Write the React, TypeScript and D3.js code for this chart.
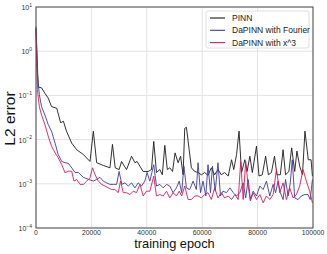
import { FC } from 'react'
import * as d3 from 'd3'

const pinnEpochs = [0, 800, 2000, 3200, 4400, 5600, 7500, 8900, 9900, 11000, 12900, 14700, 17100, 19500, 20700, 21900, 24300, 26700, 27600, 28600, 30000, 30900, 31900, 32700, 34500, 35700, 36500, 37500, 38700, 40500, 41700, 42500, 43500, 44700, 45600, 46500, 47400, 48300, 49300, 50200, 51300, 52200, 53100, 53700, 54300, 55300, 56100, 57300, 58500, 59700, 60900, 62100, 63300, 64500, 65700, 66900, 68100, 69400, 70600, 71400, 72400, 73300, 74200, 75400, 76200, 77200, 78100, 79600, 80500, 81700, 82900, 83900, 85000, 86100, 87000, 88200, 89200, 90100, 91300, 92300, 93400, 94200, 95200, 96200, 97100, 98300, 99300, 99800]
const pinnValues = [3.3, 0.155, 0.148, 0.112, 0.087, 0.056, 0.051, 0.024, 0.026, 0.0155, 0.0083, 0.0059, 0.0046, 0.0032, 0.0155, 0.003, 0.0026, 0.0023, 0.0078, 0.0023, 0.0021, 0.0032, 0.0025, 0.0021, 0.0042, 0.003, 0.0032, 0.0025, 0.0019, 0.0019, 0.0021, 0.0091, 0.0018, 0.0021, 0.0016, 0.0074, 0.0021, 0.0023, 0.0019, 0.005, 0.003, 0.0042, 0.0016, 0.018, 0.019, 0.0059, 0.0023, 0.0019, 0.0018, 0.0016, 0.0018, 0.00155, 0.0023, 0.0016, 0.0021, 0.0016, 0.0018, 0.0015, 0.0035, 0.0021, 0.0046, 0.0155, 0.0018, 0.0035, 0.0019, 0.0042, 0.0018, 0.0071, 0.0015, 0.0016, 0.0042, 0.0016, 0.0018, 0.0042, 0.0016, 0.0016, 0.0059, 0.0016, 0.0019, 0.0065, 0.0019, 0.0055, 0.0025, 0.0016, 0.0155, 0.0035, 0.0035, 0.0015]

const fourierEpochs = [0, 500, 1200, 2000, 3200, 4400, 5600, 6900, 8000, 9300, 10500, 11700, 12900, 14100, 15300, 17100, 18900, 20700, 21900, 23100, 24300, 25500, 26700, 27900, 29100, 30000, 31000, 32100, 33300, 34500, 35700, 36900, 38100, 39300, 40100, 41100, 42500, 43500, 44700, 45900, 47100, 48300, 49500, 50700, 51700, 52600, 53400, 54300, 55500, 56700, 57900, 58500, 59400, 60300, 61300, 62100, 63000, 63700, 64700, 65700, 66600, 67500, 68800, 70000, 71200, 72400, 73600, 74800, 75700, 76600, 77400, 78400, 79600, 80800, 82000, 83200, 84400, 85600, 86500, 87400, 88200, 89200, 90100, 91000, 91800, 92500, 93400, 94600, 95800, 97000, 98200, 99000, 99800]
const fourierValues = [3.6, 0.32, 0.105, 0.056, 0.036, 0.022, 0.0155, 0.0083, 0.0046, 0.0032, 0.003, 0.0029, 0.0023, 0.0018, 0.0018, 0.0014, 0.00126, 0.00115, 0.00126, 0.0014, 0.00115, 0.00105, 0.00097, 0.00097, 0.00097, 0.0019, 0.00097, 0.00105, 0.00089, 0.00105, 0.00081, 0.00105, 0.00089, 0.00115, 0.0018, 0.00115, 0.0027, 0.00089, 0.00097, 0.00081, 0.00097, 0.00089, 0.00063, 0.00081, 0.00115, 0.00063, 0.0025, 0.00081, 0.00074, 0.00115, 0.00074, 0.003, 0.00063, 0.00115, 0.00053, 0.0027, 0.00063, 0.0025, 0.00068, 0.003, 0.00053, 0.00068, 0.00063, 0.00081, 0.00063, 0.00053, 0.00063, 0.00105, 0.00048, 0.00125, 0.00044, 0.00068, 0.00053, 0.00089, 0.00074, 0.00115, 0.00053, 0.00097, 0.00063, 0.00115, 0.00063, 0.00044, 0.00125, 0.00053, 0.00105, 0.0035, 0.00048, 0.00044, 0.00053, 0.00057, 0.00057, 0.00044, 0.00125]

const cubicEpochs = [0, 500, 1200, 2000, 3200, 4400, 5600, 6900, 8000, 9300, 10500, 11700, 12900, 13700, 14700, 15900, 17100, 18300, 19500, 20400, 21300, 22500, 23700, 24900, 26100, 27300, 28500, 29700, 30500, 31500, 32700, 33900, 35100, 36300, 37500, 38700, 39900, 41100, 42500, 43500, 44700, 45900, 47100, 48300, 49500, 50700, 51700, 52600, 53700, 54900, 56100, 57300, 58500, 59700, 60900, 62100, 63300, 64500, 65700, 66900, 68100, 69400, 70600, 71800, 73000, 73900, 74800, 75700, 76600, 77400, 78400, 79600, 80800, 82000, 83200, 84400, 85600, 86800, 88000, 89200, 90400, 91600, 92800, 94000, 95200, 96400, 97600, 98800, 99800]
const cubicValues = [3.0, 0.135, 0.056, 0.036, 0.022, 0.012, 0.0071, 0.005, 0.0039, 0.0027, 0.00177, 0.00193, 0.00193, 0.00115, 0.00125, 0.00097, 0.00097, 0.00115, 0.00137, 0.0023, 0.00162, 0.00115, 0.00097, 0.00089, 0.00081, 0.00074, 0.00074, 0.00063, 0.00115, 0.00063, 0.00063, 0.00057, 0.00068, 0.00063, 0.00097, 0.00053, 0.00068, 0.00068, 0.00149, 0.00053, 0.00057, 0.00053, 0.00068, 0.00048, 0.00063, 0.00053, 0.00068, 0.00053, 0.00089, 0.00044, 0.00044, 0.00053, 0.00053, 0.00048, 0.00057, 0.00063, 0.00044, 0.00081, 0.00048, 0.00063, 0.00048, 0.00053, 0.00044, 0.00057, 0.00044, 0.0032, 0.00044, 0.0032, 0.00089, 0.00041, 0.00063, 0.00044, 0.00057, 0.00037, 0.00053, 0.00044, 0.00057, 0.0021, 0.00063, 0.00105, 0.00044, 0.00081, 0.00048, 0.00057, 0.00089, 0.0021, 0.00115, 0.00068, 0.00037]

const seriesLabels = ['PINN', 'DaPINN with Fourier', 'DaPINN with x^3']
const seriesColors = ['#1a1a1a', '#3c3c9e', '#d81b5a']
const xTicks = [0, 20000, 40000, 60000, 80000, 100000]
const yExponents = [-4, -3, -2, -1, 0, 1]

const width = 327
const height = 254
const margin = { top: 7, right: 14, bottom: 26, left: 36 }
const font = 'Liberation Sans, Arial, sans-serif'

const App: FC = () => {
  const innerW = width - margin.left - margin.right
  const innerH = height - margin.top - margin.bottom

  const x = d3.scaleLinear().domain([0, 100000]).range([0, innerW])
  const y = d3.scaleLog().domain([1e-4, 10]).range([innerH, 0])

  const series = [
    { epochs: pinnEpochs, values: pinnValues },
    { epochs: fourierEpochs, values: fourierValues },
    { epochs: cubicEpochs, values: cubicValues },
  ]

  const line = d3.line<[number, number]>()
    .x(d => x(d[0]))
    .y(d => y(d[1]))

  return (
    <svg width={width} height={height} style={{ position: 'absolute', left: 0, top: 0, background: '#fff' }}>
      <g transform={`translate(${margin.left},${margin.top})`}>
        {yExponents.map(e => (
          <line key={'gy' + e} x1={0} x2={innerW} y1={y(Math.pow(10, e))} y2={y(Math.pow(10, e))} stroke="#e3e3e3" strokeWidth={1} />
        ))}
        {xTicks.map(t => (
          <line key={'gx' + t} x1={x(t)} x2={x(t)} y1={0} y2={innerH} stroke="#e3e3e3" strokeWidth={1} />
        ))}
        {series.map((s, i) => (
          <path
            key={seriesLabels[i]}
            d={line(s.epochs.map((e, j) => [e, s.values[j]] as [number, number])) || ''}
            fill="none"
            stroke={seriesColors[i]}
            strokeWidth={0.9}
            strokeLinejoin="round"
          />
        ))}
        <rect x={0} y={0} width={innerW} height={innerH} fill="none" stroke="#4a4a4a" strokeWidth={1} />
        {xTicks.map(t => (
          <text key={'tx' + t} x={x(t)} y={innerH + 6.5} textAnchor="middle" fontSize={6.8} fontFamily={font} fill="#333">
            {t}
          </text>
        ))}
        {yExponents.map(e => (
          <text key={'ty' + e} x={-4} y={y(Math.pow(10, e)) + 3} textAnchor="end" fontFamily={font} fill="#333" fontSize={7}>
            10<tspan dy={-3.5} fontSize={5}>{e < 0 ? '\u2212' + Math.abs(e) : e}</tspan>
          </text>
        ))}
        <g transform={`translate(${innerW - 107},4)`}>
          <rect x={0} y={0} width={103} height={37} rx={2} fill="#fff" fillOpacity={0.85} stroke="#d8d8d8" strokeWidth={0.8} />
          {seriesLabels.map((label, i) => (
            <g key={label} transform={`translate(0,${7 + i * 12.3})`}>
              <line x1={4} x2={19} y1={0} y2={0} stroke={seriesColors[i]} strokeWidth={1.1} />
              <text x={26} y={3} fontSize={8.5} fontFamily={font} fill="#222">{label}</text>
            </g>
          ))}
        </g>
      </g>
      <text x={margin.left + innerW / 2} y={height - 6} textAnchor="middle" fontSize={12.8} fontFamily={font} fill="#111">
        training epoch
      </text>
      <text transform={`translate(15,${margin.top + innerH / 2 + 1}) rotate(-90)`} textAnchor="middle" fontSize={15.5} fontFamily={font} fill="#111">
        L2 error
      </text>
    </svg>
  )
}

export default App
